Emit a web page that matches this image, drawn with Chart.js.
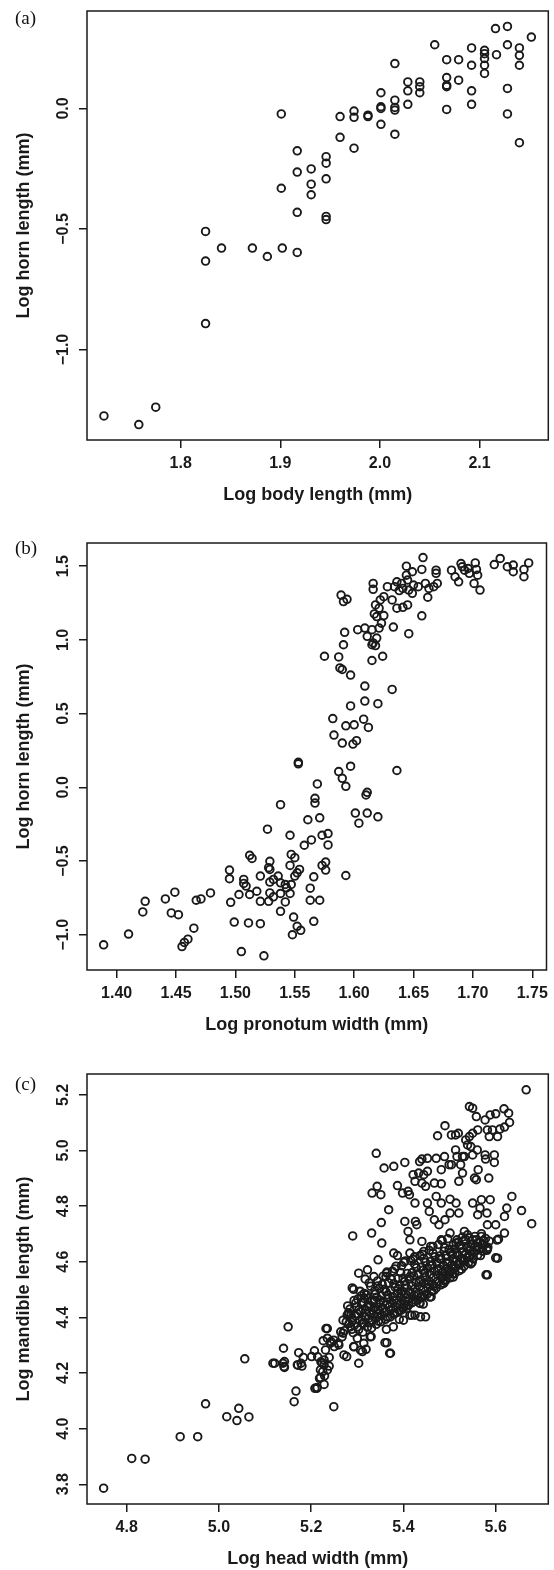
<!DOCTYPE html>
<html>
<head>
<meta charset="utf-8">
<script src="https://cdn.jsdelivr.net/npm/chart.js@4.4.1/dist/chart.umd.min.js"></script>
<style>
  html, body { margin: 0; padding: 0; background: #fff; }
  #wrap { position: relative; width: 554px; height: 1570px; }
  canvas { position: absolute; left: 0; }
  .tag { position: absolute; left: 15px; font-family: "Liberation Serif", "DejaVu Serif", serif; font-size: 19px; line-height: 19px; color: #111; }
</style>
</head>
<body>
<div id="wrap">
  <canvas id="chartA" width="554" height="506" style="top:0px"></canvas>
  <canvas id="chartB" width="554" height="530" style="top:506px"></canvas>
  <canvas id="chartC" width="554" height="534" style="top:1036px"></canvas>
  <div class="tag" style="top:8px">(a)</div>
  <div class="tag" style="top:538px">(b)</div>
  <div class="tag" style="top:1074px">(c)</div>
</div>
<script>
// (a) log body length vs log horn length, [x, y]
const bodyHorn = [
  [2.116,0.331],[2.128,0.340],[2.152,0.296],[2.055,0.264],[2.092,0.251],[2.105,0.241],[2.105,0.227],[2.105,0.207],[2.105,0.179],[2.105,0.145],
  [2.117,0.223],[2.128,0.264],[2.140,0.251],[2.140,0.220],[2.140,0.179],[2.067,0.202],[2.079,0.202],[2.092,0.179],[2.015,0.186],[2.028,0.110],
  [2.040,0.110],[2.040,0.090],[2.040,0.065],[2.067,0.128],[2.067,0.096],[2.067,0.090],[2.079,0.117],[2.092,0.073],[2.128,0.083],[2.028,0.073],
  [2.001,0.065],[2.015,0.034],[2.028,0.017],[2.067,-0.004],[2.092,0.017],[2.128,-0.023],[2.140,-0.142],[2.001,0.007],[2.001,0.000],[2.015,0.004],
  [2.015,-0.007],[2.001,-0.066],[2.015,-0.107],[1.988,-0.028],[1.988,-0.034],[1.974,-0.011],[1.974,-0.037],[1.960,-0.034],[1.960,-0.120],[1.974,-0.165],
  [1.901,-0.023],[1.917,-0.176],[1.917,-0.264],[1.931,-0.251],[1.931,-0.314],[1.931,-0.358],[1.946,-0.200],[1.946,-0.227],[1.946,-0.292],[1.901,-0.331],
  [1.917,-0.431],[1.946,-0.448],[1.946,-0.461],[1.825,-0.510],[1.841,-0.579],[1.872,-0.579],[1.887,-0.614],[1.902,-0.579],[1.917,-0.597],[1.825,-0.633],
  [1.825,-0.892],[1.723,-1.275],[1.758,-1.311],[1.775,-1.239]
];
const xTicksA = [1.8, 1.9, 2.0, 2.1];
const yTicksA = [-1.0, -0.5, 0.0];

// (b) log pronotum width vs log horn length
const pronotumHorn = [
  [1.718,1.511],[1.723,1.552],[1.729,1.496],[1.734,1.507],[1.734,1.462],[1.743,1.478],[1.747,1.522],[1.743,1.428],[1.682,1.473],[1.685,1.428],
  [1.688,1.394],[1.690,1.518],[1.691,1.496],[1.693,1.473],[1.696,1.484],[1.697,1.451],[1.702,1.522],[1.703,1.478],[1.704,1.439],[1.701,1.383],
  [1.706,1.338],[1.658,1.558],[1.657,1.478],[1.644,1.500],[1.644,1.439],[1.649,1.462],[1.669,1.473],[1.669,1.451],[1.636,1.394],[1.634,1.361],
  [1.640,1.383],[1.645,1.406],[1.650,1.372],[1.654,1.361],[1.660,1.383],[1.663,1.349],[1.667,1.361],[1.670,1.383],[1.641,1.349],[1.646,1.338],
  [1.649,1.316],[1.638,1.334],[1.628,1.361],[1.616,1.383],[1.616,1.343],[1.625,1.293],[1.622,1.271],[1.632,1.271],[1.662,1.289],[1.636,1.215],
  [1.641,1.221],[1.645,1.237],[1.657,1.163],[1.646,1.042],[1.633,1.087],[1.589,1.304],[1.591,1.260],[1.594,1.275],[1.618,1.237],[1.621,1.215],
  [1.617,1.176],[1.619,1.158],[1.625,1.165],[1.623,1.113],[1.621,1.080],[1.615,1.069],[1.609,1.080],[1.603,1.069],[1.611,1.024],[1.619,1.012],
  [1.616,0.979],[1.618,0.961],[1.615,0.967],[1.615,0.860],[1.624,0.889],[1.592,1.051],[1.591,0.967],[1.575,0.889],[1.587,0.884],[1.588,0.810],
  [1.590,0.799],[1.597,0.761],[1.609,0.687],[1.632,0.664],[1.609,0.585],[1.620,0.567],[1.597,0.552],[1.582,0.466],[1.593,0.417],[1.600,0.424],
  [1.608,0.462],[1.612,0.406],[1.583,0.354],[1.590,0.300],[1.599,0.293],[1.602,0.316],[1.553,0.170],[1.553,0.159],[1.597,0.143],[1.636,0.114],
  [1.587,0.107],[1.590,0.061],[1.593,0.007],[1.569,0.023],[1.611,-0.034],[1.610,-0.052],[1.567,-0.075],[1.567,-0.107],[1.538,-0.118],[1.601,-0.175],
  [1.611,-0.175],[1.620,-0.200],[1.604,-0.243],[1.561,-0.220],[1.571,-0.207],[1.527,-0.284],[1.546,-0.325],[1.564,-0.357],[1.558,-0.393],[1.573,-0.325],
  [1.578,-0.314],[1.578,-0.391],[1.512,-0.461],[1.514,-0.482],[1.547,-0.455],[1.550,-0.477],[1.529,-0.502],[1.528,-0.545],[1.529,-0.557],[1.546,-0.530],
  [1.576,-0.507],[1.573,-0.530],[1.576,-0.561],[1.554,-0.557],[1.552,-0.580],[1.550,-0.602],[1.566,-0.607],[1.593,-0.598],[1.495,-0.561],[1.495,-0.620],
  [1.507,-0.625],[1.521,-0.602],[1.536,-0.602],[1.532,-0.625],[1.529,-0.643],[1.509,-0.670],[1.507,-0.652],[1.538,-0.648],[1.542,-0.659],[1.547,-0.659],
  [1.563,-0.684],[1.543,-0.682],[1.518,-0.705],[1.529,-0.716],[1.538,-0.720],[1.546,-0.720],[1.503,-0.727],[1.512,-0.727],[1.532,-0.743],[1.521,-0.773],
  [1.528,-0.773],[1.542,-0.777],[1.563,-0.766],[1.571,-0.766],[1.479,-0.716],[1.471,-0.757],[1.467,-0.766],[1.449,-0.711],[1.441,-0.757],[1.424,-0.773],
  [1.422,-0.845],[1.446,-0.852],[1.452,-0.864],[1.496,-0.780],[1.538,-0.841],[1.465,-0.955],[1.499,-0.914],[1.511,-0.920],[1.521,-0.925],[1.549,-0.880],
  [1.566,-0.909],[1.552,-0.943],[1.555,-0.970],[1.548,-1.000],[1.410,-0.995],[1.460,-1.030],[1.457,-1.052],[1.455,-1.080],[1.389,-1.068],[1.505,-1.114],
  [1.524,-1.143]
];
const xTicksB = [1.40, 1.45, 1.50, 1.55, 1.60, 1.65, 1.70, 1.75];
const yTicksB = [-1.0, -0.5, 0.0, 0.5, 1.0, 1.5];

// (c) log head width vs log mandible length
const headMandible = [
  [4.750,3.786],[4.811,3.893],[4.840,3.890],[4.916,3.971],[4.954,3.971],[4.971,4.089],[5.017,4.043],[5.039,4.029],[5.043,4.073],[5.065,4.042],
  [5.056,4.251],[5.121,4.235],[5.140,4.289],[5.142,4.241],[5.142,4.220],[5.150,4.366],[5.167,4.135],[5.163,4.097],[5.170,4.229],[5.173,4.273],
  [5.180,4.225],[5.183,4.256],[5.201,4.259],[5.207,4.280],[5.212,4.145],[5.220,4.184],[5.220,4.211],[5.228,4.159],[5.224,4.235],[5.228,4.247],
  [5.239,4.225],[5.249,4.079],[5.235,4.360],[5.235,4.325],[5.226,4.316],[5.243,4.313],[5.239,4.256],[5.231,4.283],[5.250,4.295],[5.259,4.307],
  [5.269,4.343],[5.277,4.259],[5.269,4.390],[5.281,4.412],[5.288,4.357],[5.292,4.295],[5.303,4.235],[5.311,4.277],[5.319,4.285],[5.330,4.331],
  [5.292,4.501],[5.364,4.309],[5.372,4.271],[5.363,4.357],[5.391,4.393],[5.418,4.408],[5.437,4.402],[5.448,4.402],[5.436,4.450],[5.443,4.448],
  [5.460,4.474],[5.487,4.522],[5.315,4.486],[5.325,4.438],[5.311,4.378],[5.300,4.366],[5.337,4.462],[5.345,4.414],[5.356,4.432],[5.379,4.462],
  [5.395,4.426],[5.395,4.486],[5.117,4.235],[5.139,4.235],[5.141,4.223],[5.171,4.229],[5.178,4.235],[5.214,4.258],[5.221,4.240],[5.228,4.229],
  [5.225,4.205],[5.218,4.181],[5.213,4.148],[5.235,4.211],[5.229,4.190],[5.232,4.360],[5.242,4.307],[5.249,4.318],[5.260,4.301],[5.267,4.330],
  [5.264,4.348],[5.271,4.265],[5.278,4.408],[5.289,4.390],[5.282,4.378],[5.293,4.294],[5.300,4.325],[5.307,4.282],[5.314,4.307],[5.328,4.330],
  [5.360,4.309],[5.370,4.271],[5.378,4.366],[5.400,4.390],[5.414,4.408],[5.208,4.145],[5.425,4.408],[5.407,4.432],
  [5.666,5.218],[5.543,5.158],[5.550,5.152],[5.558,5.122],[5.577,5.110],[5.588,5.128],[5.600,5.132],[5.618,5.150],[5.628,5.134],[5.630,5.101],
  [5.619,5.084],[5.609,5.077],[5.593,5.074],[5.582,5.074],[5.604,5.050],[5.586,5.050],[5.561,5.074],[5.550,5.062],[5.543,5.050],[5.535,5.038],
  [5.539,5.020],[5.546,5.014],[5.490,5.089],[5.504,5.056],[5.513,5.056],[5.474,5.053],[5.519,5.062],[5.513,5.002],[5.532,4.978],[5.550,4.984],
  [5.560,5.002],[5.577,4.984],[5.578,4.969],[5.597,4.984],[5.597,4.957],[5.528,4.978],[5.516,4.978],[5.524,4.949],[5.504,4.949],[5.489,4.978],
  [5.471,4.972],[5.452,4.972],[5.440,4.969],[5.435,4.960],[5.341,4.990],[5.379,4.943],[5.403,4.957],[5.358,4.937],[5.421,4.913],[5.433,4.919],
  [5.444,4.913],[5.452,4.925],[5.482,4.931],[5.499,4.949],[5.528,4.919],[5.554,4.901],[5.562,4.931],[5.585,4.901],[5.520,4.889],[5.558,4.895],
  [5.425,4.889],[5.440,4.883],[5.448,4.871],[5.467,4.883],[5.482,4.880],[5.387,4.874],[5.398,4.847],[5.410,4.853],[5.413,4.841],[5.425,4.811],
  [5.452,4.811],[5.456,4.781],[5.471,4.835],[5.482,4.811],[5.501,4.825],[5.514,4.811],[5.467,4.751],[5.477,4.733],[5.490,4.751],[5.501,4.775],
  [5.520,4.775],[5.550,4.811],[5.569,4.823],[5.588,4.823],[5.566,4.793],[5.581,4.775],[5.561,4.769],[5.624,4.793],[5.619,4.763],[5.635,4.835],
  [5.656,4.784],[5.678,4.737],[5.582,4.733],[5.600,4.733],[5.619,4.703],[5.606,4.681],[5.604,4.613],[5.582,4.646],[5.582,4.553],[5.343,4.871],
  [5.351,4.841],[5.368,4.787],[5.332,4.847],[5.352,4.741],[5.331,4.703],[5.290,4.693],[5.403,4.745],[5.426,4.745],[5.429,4.733],[5.410,4.709],
  [5.414,4.679],[5.440,4.673],[5.459,4.655],[5.482,4.679],[5.501,4.703],[5.516,4.679],[5.532,4.709],[5.550,4.679],[5.569,4.691],[5.516,4.631],
  [5.543,4.619],[5.561,4.655],[5.353,4.667],[5.379,4.631],[5.345,4.607],[5.303,4.559],[5.322,4.571],[5.364,4.559],[5.387,4.622],[5.414,4.631],
  [5.579,4.553],[5.600,4.614],[5.603,4.678],[5.289,4.506],
  [5.272,4.352],[5.276,4.384],[5.281,4.417],[5.279,4.441],[5.285,4.366],[5.288,4.398],[5.284,4.430],[5.291,4.345],
  [5.294,4.372],[5.296,4.405],[5.298,4.438],[5.301,4.466],[5.303,4.356],[5.305,4.389],[5.307,4.421],[5.309,4.452],[5.306,4.494],[5.300,4.413],
  [5.312,4.347],[5.314,4.378],[5.316,4.402],[5.318,4.427],[5.313,4.455],[5.320,4.481],[5.322,4.365],[5.324,4.396],[5.326,4.418],[5.328,4.443],
  [5.323,4.469],[5.329,4.512],[5.317,4.538],
  [5.331,4.362],[5.333,4.389],[5.335,4.412],[5.337,4.436],[5.332,4.458],[5.339,4.484],[5.341,4.375],[5.343,4.401],[5.345,4.427],[5.347,4.449],
  [5.342,4.472],[5.348,4.503],[5.344,4.531],[5.336,4.547],
  [5.351,4.384],[5.353,4.409],[5.355,4.433],[5.357,4.456],[5.352,4.478],[5.359,4.501],[5.361,4.393],[5.363,4.421],[5.365,4.446],[5.367,4.468],
  [5.362,4.492],[5.368,4.524],[5.356,4.548],[5.364,4.563],
  [5.371,4.401],[5.373,4.428],[5.375,4.452],[5.377,4.474],[5.372,4.497],[5.379,4.521],[5.381,4.413],[5.383,4.439],[5.385,4.462],[5.387,4.486],
  [5.382,4.508],[5.388,4.539],[5.376,4.566],[5.384,4.584],
  [5.391,4.424],[5.393,4.447],[5.395,4.471],[5.397,4.494],[5.392,4.517],[5.399,4.541],[5.401,4.436],[5.403,4.459],[5.405,4.483],[5.407,4.506],
  [5.402,4.529],[5.408,4.558],[5.396,4.586],[5.404,4.603],
  [5.411,4.444],[5.413,4.467],[5.415,4.491],[5.417,4.514],[5.412,4.537],[5.419,4.561],[5.421,4.456],[5.423,4.479],[5.425,4.503],[5.427,4.526],
  [5.422,4.549],[5.428,4.578],[5.416,4.604],[5.424,4.618],
  [5.431,4.462],[5.433,4.487],[5.435,4.511],[5.437,4.534],[5.432,4.557],[5.439,4.581],[5.441,4.474],[5.443,4.499],[5.445,4.523],[5.447,4.546],
  [5.442,4.569],[5.448,4.598],[5.436,4.622],[5.444,4.637],
  [5.451,4.483],[5.453,4.507],[5.455,4.531],[5.457,4.554],[5.452,4.577],[5.459,4.601],[5.461,4.494],[5.463,4.519],[5.465,4.543],[5.467,4.566],
  [5.462,4.589],[5.468,4.618],[5.456,4.641],[5.464,4.655],
  [5.471,4.506],[5.473,4.529],[5.475,4.552],[5.477,4.575],[5.472,4.598],[5.479,4.621],[5.481,4.517],[5.483,4.541],[5.485,4.563],[5.487,4.587],
  [5.482,4.609],[5.488,4.638],[5.476,4.662],[5.484,4.676],
  [5.491,4.531],[5.493,4.553],[5.495,4.577],[5.497,4.599],[5.492,4.621],[5.499,4.645],[5.501,4.542],[5.503,4.566],[5.505,4.589],[5.507,4.611],
  [5.502,4.633],[5.508,4.661],[5.496,4.683],
  [5.511,4.557],[5.513,4.579],[5.515,4.602],[5.517,4.624],[5.512,4.646],[5.519,4.671],[5.521,4.568],[5.523,4.591],[5.525,4.613],[5.527,4.636],
  [5.522,4.658],[5.528,4.689],
  [5.531,4.583],[5.533,4.606],[5.535,4.628],[5.537,4.651],[5.532,4.673],[5.539,4.697],[5.541,4.597],[5.543,4.619],[5.545,4.641],[5.547,4.664],
  [5.542,4.686],
  [5.551,4.611],[5.553,4.634],[5.556,4.656],[5.558,4.679],[5.561,4.624],[5.564,4.647],[5.566,4.668],[5.569,4.701],
  [5.572,4.638],[5.575,4.661],[5.578,4.684],[5.583,4.652],[5.586,4.674],
  [5.457,4.473],[5.435,4.452],[5.487,4.524],[5.508,4.545],
  [5.286,4.409],[5.297,4.452],[5.304,4.428],[5.311,4.391],[5.315,4.468],[5.321,4.438],[5.327,4.381],[5.334,4.426],[5.338,4.497],[5.346,4.386],
  [5.349,4.462],[5.354,4.519],[5.358,4.419],[5.366,4.481],[5.369,4.438],[5.374,4.537],[5.378,4.412],[5.386,4.452],[5.389,4.503],[5.394,4.561],
  [5.398,4.433],[5.404,4.517],[5.406,4.471],[5.414,4.547],[5.418,4.452],[5.424,4.591],[5.426,4.491],[5.434,4.527],[5.438,4.472],[5.444,4.612],
  [5.446,4.561],[5.454,4.519],[5.458,4.586],[5.464,4.631],[5.466,4.497],[5.474,4.568],[5.478,4.611],[5.486,4.533],[5.489,4.651],[5.494,4.593],
  [5.498,4.557],[5.506,4.627],[5.509,4.574],[5.514,4.667],[5.518,4.591],[5.526,4.648],[5.529,4.603],[5.534,4.681],[5.538,4.614],[5.546,4.652],
  [5.549,4.598],[5.555,4.691],[5.559,4.641],[5.567,4.622],[5.574,4.676],[5.581,4.641],[5.344,4.513],[5.362,4.547],[5.381,4.574],[5.401,4.598],
  [5.421,4.609],[5.441,4.627],[5.326,4.524],[5.309,4.478],[5.293,4.461],[5.366,4.401],[5.386,4.418],[5.406,4.441],[5.426,4.462],[5.446,4.481],
  [5.466,4.512],[5.486,4.548],[5.506,4.556],[5.526,4.573],[5.546,4.592]
];
const xTicksC = [4.8, 5.0, 5.2, 5.4, 5.6];
const yTicksC = [3.8, 4.0, 4.2, 4.4, 4.6, 4.8, 5.0, 5.2];

const sans = '"Liberation Sans", Arial, Helvetica, sans-serif';
const tickFont = { family: sans, size: 16, weight: 'bold' };
const titleFont = { family: sans, size: 18, weight: 'bold' };
const ink = '#1a1a1a';

// R style frame around the plot region
const boxPlugin = {
  id: 'box',
  afterDraw(chart) {
    const { ctx, chartArea: a } = chart;
    ctx.save();
    ctx.strokeStyle = ink;
    ctx.lineWidth = 1.5;
    ctx.strokeRect(a.left, a.top, a.right - a.left, a.bottom - a.top);
    ctx.restore();
  }
};

function fmt(v, dec) {
  return v.toFixed(dec).replace('-', '\u2212');
}

function makePanel(id, points, cfg) {
  return new Chart(document.getElementById(id), {
    type: 'scatter',
    data: {
      datasets: [{
        data: points.map(p => ({ x: p[0], y: p[1] })),
        pointRadius: 3.8,
        pointHoverRadius: 3.8,
        pointBorderWidth: 1.9,
        borderColor: ink,
        backgroundColor: 'rgba(0,0,0,0)'
      }]
    },
    options: {
      responsive: false,
      animation: false,
      events: [],
      layout: { padding: { top: cfg.padTop, right: 4, left: 0, bottom: 0 } },
      plugins: { legend: { display: false }, tooltip: { enabled: false } },
      scales: {
        x: {
          type: 'linear',
          min: cfg.xMin,
          max: cfg.xMax,
          afterBuildTicks: s => { s.ticks = cfg.xTicks.map(v => ({ value: v })); },
          afterFit: s => { s.height = 66; },
          border: { display: false },
          grid: { drawOnChartArea: false, tickLength: 8, color: ink, lineWidth: 1.5 },
          ticks: { autoSkip: false, maxRotation: 0, padding: 6, color: ink, font: tickFont,
                   callback: v => fmt(v, cfg.xDec) },
          title: { display: true, text: cfg.xTitle, color: ink, font: titleFont, padding: { top: 0, bottom: 0 } }
        },
        y: {
          type: 'linear',
          min: cfg.yMin,
          max: cfg.yMax,
          afterBuildTicks: s => { s.ticks = cfg.yTicks.map(v => ({ value: v })); },
          afterFit: s => { s.width = 87; },
          border: { display: false },
          grid: { drawOnChartArea: false, tickLength: 8, color: ink, lineWidth: 1.5 },
          ticks: { autoSkip: false, minRotation: 90, maxRotation: 90, crossAlign: 'center', padding: cfg.yPad,
                   color: ink, font: tickFont, callback: v => fmt(v, 1) },
          title: { display: true, text: cfg.yTitle, color: ink, font: titleFont, padding: { top: 13, bottom: 0 } }
        }
      }
    },
    plugins: [boxPlugin]
  });
}

makePanel('chartA', bodyHorn, {
  padTop: 11, xMin: 1.706, xMax: 2.169, yMin: -1.375, yMax: 0.404,
  xTicks: xTicksA, yTicks: yTicksA, xDec: 1, yPad: 0,
  xTitle: 'Log body length (mm)', yTitle: 'Log horn length (mm)'
});

makePanel('chartB', pronotumHorn, {
  padTop: 37, xMin: 1.375, xMax: 1.762, yMin: -1.239, yMax: 1.657,
  xTicks: xTicksB, yTicks: yTicksB, xDec: 2, yPad: 0,
  xTitle: 'Log pronotum width (mm)', yTitle: 'Log horn length (mm)'
});

makePanel('chartC', headMandible, {
  padTop: 38, xMin: 4.714, xMax: 5.714, yMin: 3.729, yMax: 5.275,
  xTicks: xTicksC, yTicks: yTicksC, xDec: 1, yPad: 4,
  xTitle: 'Log head width (mm)', yTitle: 'Log mandible length (mm)'
});
</script>
</body>
</html>
